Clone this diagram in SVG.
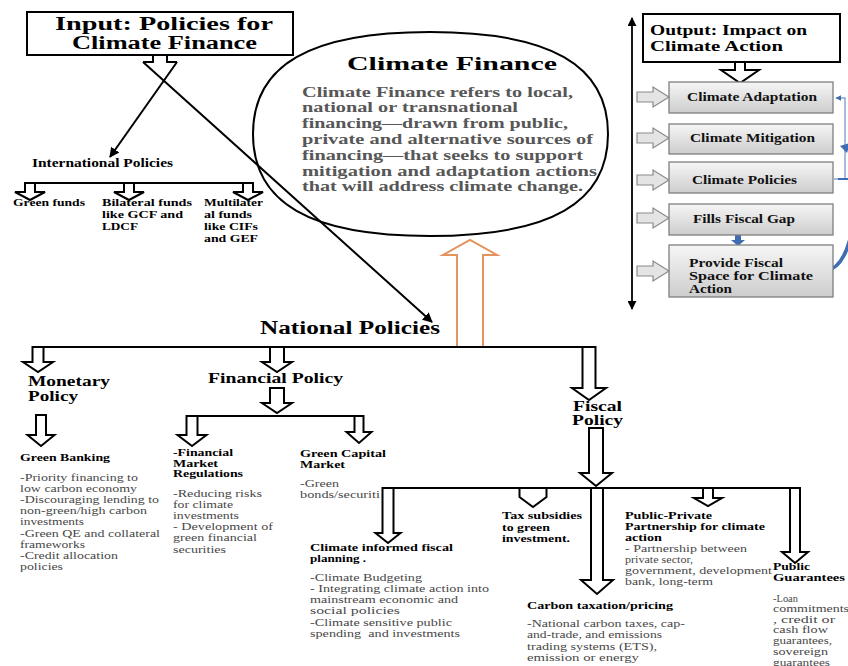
<svg xmlns="http://www.w3.org/2000/svg" width="848" height="666" viewBox="0 0 848 666">
<style>
text{font-family:"Liberation Serif","Times New Roman",serif}
.lb{font-weight:bold;font-size:10.5px;fill:#000}
.bd{font-size:10.5px;fill:#474747}
.h14{font-weight:bold;font-size:14px;fill:#000}
.rb{font-weight:bold;font-size:11.5px;fill:#111}
.cb{font-weight:bold;font-size:14px;fill:#575757}
.ha{fill:#fff;stroke:#000;stroke-width:2;stroke-linejoin:miter}
.ln{fill:none;stroke:#000;stroke-width:2}
.gb{fill:url(#gg);stroke:#7f7f7f;stroke-width:1.3}
.sa{fill:#e4e4e4;stroke:#8a8a8a;stroke-width:1.2}
</style>
<defs>
<linearGradient id="gg" x1="0" y1="0" x2="0" y2="1">
<stop offset="0" stop-color="#f6f6f6"/>
<stop offset="1" stop-color="#cdcdcd"/>
</linearGradient>
<marker id="ah" viewBox="0 0 10 10" refX="9" refY="5" markerWidth="5" markerHeight="5" orient="auto-start-reverse">
<path d="M0,0 L10,5 L0,10 z" fill="#000"/>
</marker>
<marker id="bh" viewBox="0 0 10 10" refX="9" refY="5" markerWidth="4" markerHeight="4" orient="auto-start-reverse">
<path d="M0,0 L10,5 L0,10 z" fill="#3f6db3"/>
</marker>
</defs>
<rect width="848" height="666" fill="#fff"/>

<g id="connectors">
<polyline class="ln" points="153,55 153,62 143,62"/>
<polyline class="ln" points="167,55 167,62 177,62"/>
<line class="ln" x1="143" y1="62" x2="432" y2="322" marker-end="url(#ah)"/>
<line class="ln" x1="177" y1="62" x2="110" y2="157" marker-end="url(#ah)"/>
<line class="ln" x1="25" y1="183" x2="253" y2="183"/>
<polygon class="ha" points="25,183 25,192 15,192 30,200 45,192 35,192 35,183"/>
<polygon class="ha" points="124,183 124,192 114,192 129,200 144,192 134,192 134,183"/>
<polygon class="ha" points="243,183 243,192 233,192 248,200 263,192 253,192 253,183"/>
<polygon points="457,347 457,255 443,255 470,240 497,255 483,255 483,347" fill="#fff" stroke="#e3935b" stroke-width="2"/>
<line class="ln" x1="32" y1="347" x2="596" y2="347"/>
<polygon class="ha" points="32.5,347 32.5,362 23,362 38,372 53,362 43.5,362 43.5,347"/>
<polygon class="ha" points="270,347 270,362 262,362 277,372 292,362 284,362 284,347"/>
<polygon class="ha" points="582.5,347 582.5,388 572,388 589,400 606,388 595.5,388 595.5,347"/>
<polygon class="ha" points="270,388 270,403 262,403 277,413 292,403 284,403 284,388"/>
<line class="ln" x1="186.5" y1="416" x2="363.5" y2="416"/>
<polygon class="ha" points="186.5,416 186.5,435 177.5,435 192,446 206.5,435 197.5,435 197.5,416"/>
<polygon class="ha" points="354.5,416 354.5,432 346.5,432 359,443 371.5,432 363.5,432 363.5,416"/>
<polygon class="ha" points="36,415 36,435 27.5,435 41,446 54.5,435 46,435 46,415"/>
<polygon class="ha" points="589,428 589,473 580,473 596,486 612,473 603,473 603,428"/>
<line class="ln" x1="382" y1="488" x2="800" y2="488"/>
<polygon class="ha" points="382.5,488 382.5,533 375.5,533 388,543 400.5,533 393.5,533 393.5,488"/>
<polygon class="ha" points="519.5,488 519.5,497 533,507 546.5,497 546.5,488"/>
<polygon class="ha" points="591,488 591,580 581,580 597,594 613,580 603,580 603,488"/>
<polygon class="ha" points="703,488 703,498 694,498 708,506 722,498 713,498 713,488"/>
<polygon class="ha" points="790,488 790,552 782,552 795,563 808,552 800,552 800,488"/>
<line x1="632" y1="18" x2="632" y2="309" stroke="#000" stroke-width="1.8" marker-start="url(#ah)" marker-end="url(#ah)"/>
<polygon class="ha" points="735,62 735,70 721,70 740,83 759,70 745,70 745,62"/>
<polygon class="sa" points="637,92 653,92 653,87 669,97 653,107 653,102 637,102"/>
<polygon class="sa" points="637,133 653,133 653,128 669,138 653,148 653,143 637,143"/>
<polygon class="sa" points="637,175 653,175 653,170 669,180 653,190 653,185 637,185"/>
<polygon class="sa" points="637,213 653,213 653,208 669,218 653,228 653,223 637,223"/>
<polygon class="sa" points="637,266 653,266 653,261 669,271 653,281 653,276 637,276"/>
<polygon points="735,235 741,235 741,240 745,240 738,246 731,240 735,240" fill="#3f6db3"/>
<polyline points="834,179 845,179 845,98 836,98" fill="none" stroke="#8aa6d2" stroke-width="1.5" marker-end="url(#bh)"/>
<line x1="838" y1="179" x2="848" y2="179" stroke="#3f6db3" stroke-width="2"/>
<path d="M826,271 C842,268 849,248 853,225" fill="none" stroke="#3f6db3" stroke-width="3.5"/>
<polygon points="840,146 850,143 847,153" fill="#3f6db3"/>
</g>

<g id="input-box">
<rect x="27" y="12" width="266" height="43" fill="#fff" stroke="#000" stroke-width="2"/>
<text x="55" y="30" font-size="18" font-weight="bold" textLength="218" lengthAdjust="spacingAndGlyphs">Input: Policies for</text>
<text x="72" y="49" font-size="18" font-weight="bold" textLength="185" lengthAdjust="spacingAndGlyphs">Climate Finance</text>
</g>

<g id="climate-finance">
<path d="M253,134 C253,65 310,32 430,32 C550,32 608,65 608,134 C608,203 550,236 430,236 C310,236 253,203 253,134 Z" fill="none" stroke="#000" stroke-width="2"/>
<text x="347" y="70" font-size="19" font-weight="bold" textLength="210" lengthAdjust="spacingAndGlyphs">Climate Finance</text>
<text class="cb" x="302" y="96.5" textLength="271" lengthAdjust="spacingAndGlyphs">Climate Finance refers to local,</text>
<text class="cb" x="302" y="112" textLength="216" lengthAdjust="spacingAndGlyphs">national or transnational</text>
<text class="cb" x="302" y="128" textLength="266" lengthAdjust="spacingAndGlyphs">financing—drawn from public,</text>
<text class="cb" x="302" y="144" textLength="291" lengthAdjust="spacingAndGlyphs">private and alternative sources of</text>
<text class="cb" x="302" y="160" textLength="281" lengthAdjust="spacingAndGlyphs">financing—that seeks to support</text>
<text class="cb" x="302" y="176" textLength="295" lengthAdjust="spacingAndGlyphs">mitigation and adaptation actions</text>
<text class="cb" x="302" y="191" textLength="281" lengthAdjust="spacingAndGlyphs">that will address climate change.</text>
</g>

<g id="international-policies">
<text x="32" y="167" font-size="11.5" font-weight="bold" textLength="141" lengthAdjust="spacingAndGlyphs">International Policies</text>
</g>
<g id="green-funds">
<text class="lb" x="13" y="206" textLength="72" lengthAdjust="spacingAndGlyphs">Green funds</text>
</g>
<g id="bilateral-funds">
<text class="lb" x="102" y="206" textLength="90" lengthAdjust="spacingAndGlyphs">Bilateral funds</text>
<text class="lb" x="102" y="218" textLength="81" lengthAdjust="spacingAndGlyphs">like GCF and</text>
<text class="lb" x="102" y="230" textLength="36" lengthAdjust="spacingAndGlyphs">LDCF</text>
</g>
<g id="multilateral-funds">
<text class="lb" x="204" y="206" textLength="59" lengthAdjust="spacingAndGlyphs">Multilater</text>
<text class="lb" x="204" y="218" textLength="48" lengthAdjust="spacingAndGlyphs">al funds</text>
<text class="lb" x="204" y="230" textLength="54" lengthAdjust="spacingAndGlyphs">like CIFs</text>
<text class="lb" x="204" y="242" textLength="54" lengthAdjust="spacingAndGlyphs">and GEF</text>
</g>

<g id="national-policies">
<text x="260" y="334" font-size="18" font-weight="bold" textLength="180" lengthAdjust="spacingAndGlyphs">National Policies</text>
</g>
<g id="monetary-policy">
<text class="h14" x="28" y="386" textLength="82" lengthAdjust="spacingAndGlyphs">Monetary</text>
<text class="h14" x="28" y="401" textLength="50" lengthAdjust="spacingAndGlyphs">Policy</text>
</g>
<g id="financial-policy">
<text class="h14" x="208" y="383" textLength="135" lengthAdjust="spacingAndGlyphs">Financial Policy</text>
</g>
<g id="fiscal-policy">
<text class="h14" x="573" y="411" textLength="49" lengthAdjust="spacingAndGlyphs">Fiscal</text>
<text class="h14" x="572" y="425" textLength="51" lengthAdjust="spacingAndGlyphs">Policy</text>
</g>

<g id="green-banking">
<text class="lb" x="20" y="461" textLength="90" lengthAdjust="spacingAndGlyphs">Green Banking</text>
<text class="bd" x="20" y="480.5" textLength="118" lengthAdjust="spacingAndGlyphs">-Priority financing to</text>
<text class="bd" x="20" y="491.7" textLength="117" lengthAdjust="spacingAndGlyphs">low carbon economy</text>
<text class="bd" x="20" y="502.9" textLength="139" lengthAdjust="spacingAndGlyphs">-Discouraging lending to</text>
<text class="bd" x="20" y="514.1" textLength="127" lengthAdjust="spacingAndGlyphs">non-green/high carbon</text>
<text class="bd" x="20" y="525.3" textLength="64" lengthAdjust="spacingAndGlyphs">investments</text>
<text class="bd" x="20" y="536.5" textLength="140" lengthAdjust="spacingAndGlyphs">-Green QE and collateral</text>
<text class="bd" x="20" y="547.7" textLength="65" lengthAdjust="spacingAndGlyphs">frameworks</text>
<text class="bd" x="20" y="558.9" textLength="98" lengthAdjust="spacingAndGlyphs">-Credit allocation</text>
<text class="bd" x="20" y="570.1" textLength="43" lengthAdjust="spacingAndGlyphs">policies</text>
</g>

<g id="financial-market-regulations">
<text class="lb" x="173" y="455.5" textLength="60" lengthAdjust="spacingAndGlyphs">-Financial</text>
<text class="lb" x="173" y="466.5" textLength="45" lengthAdjust="spacingAndGlyphs">Market</text>
<text class="lb" x="173" y="477" textLength="70" lengthAdjust="spacingAndGlyphs">Regulations</text>
<text class="bd" x="173" y="496.5" textLength="89" lengthAdjust="spacingAndGlyphs">-Reducing risks</text>
<text class="bd" x="173" y="507.5" textLength="60" lengthAdjust="spacingAndGlyphs">for climate</text>
<text class="bd" x="173" y="519" textLength="66" lengthAdjust="spacingAndGlyphs">investments</text>
<text class="bd" x="173" y="530" textLength="100" lengthAdjust="spacingAndGlyphs">- Development of</text>
<text class="bd" x="173" y="541" textLength="84" lengthAdjust="spacingAndGlyphs">green financial</text>
<text class="bd" x="173" y="552.5" textLength="53" lengthAdjust="spacingAndGlyphs">securities</text>
</g>

<g id="green-capital-market">
<text class="lb" x="300" y="456.5" textLength="86" lengthAdjust="spacingAndGlyphs">Green Capital</text>
<text class="lb" x="300" y="467.5" textLength="45" lengthAdjust="spacingAndGlyphs">Market</text>
<text class="bd" x="300" y="486.5" textLength="39" lengthAdjust="spacingAndGlyphs">-Green</text>
<text class="bd" x="300" y="497.5" textLength="80" lengthAdjust="spacingAndGlyphs">bonds/securiti</text>
</g>

<g id="climate-informed-fiscal-planning">
<text class="lb" x="310" y="550.5" textLength="143" lengthAdjust="spacingAndGlyphs">Climate informed fiscal</text>
<text class="lb" x="310" y="561.5" textLength="56" lengthAdjust="spacingAndGlyphs">planning .</text>
<text class="bd" x="310" y="580.5" textLength="112" lengthAdjust="spacingAndGlyphs">-Climate Budgeting</text>
<text class="bd" x="310" y="591.5" textLength="179" lengthAdjust="spacingAndGlyphs">- Integrating climate action into</text>
<text class="bd" x="310" y="602.5" textLength="148" lengthAdjust="spacingAndGlyphs">mainstream economic and</text>
<text class="bd" x="310" y="614" textLength="90" lengthAdjust="spacingAndGlyphs">social policies</text>
<text class="bd" x="310" y="625.5" textLength="142" lengthAdjust="spacingAndGlyphs">-Climate sensitive public</text>
<text class="bd" x="310" y="636.5" textLength="150" lengthAdjust="spacingAndGlyphs" xml:space="preserve">spending  and investments</text>
</g>

<g id="tax-subsidies">
<text class="lb" x="502" y="518.5" textLength="80" lengthAdjust="spacingAndGlyphs">Tax subsidies</text>
<text class="lb" x="502" y="530.5" textLength="48" lengthAdjust="spacingAndGlyphs">to green</text>
<text class="lb" x="502" y="541.5" textLength="68" lengthAdjust="spacingAndGlyphs">investment.</text>
</g>

<g id="carbon-taxation">
<text class="lb" x="527" y="608.5" textLength="146" lengthAdjust="spacingAndGlyphs">Carbon taxation/pricing</text>
<text class="bd" x="527" y="626.5" textLength="158" lengthAdjust="spacingAndGlyphs">-National carbon taxes, cap-</text>
<text class="bd" x="527" y="638" textLength="135" lengthAdjust="spacingAndGlyphs">and-trade, and emissions</text>
<text class="bd" x="527" y="649.5" textLength="130" lengthAdjust="spacingAndGlyphs">trading systems (ETS),</text>
<text class="bd" x="527" y="661" textLength="112" lengthAdjust="spacingAndGlyphs">emission or energy</text>
</g>

<g id="public-private-partnership">
<text class="lb" x="625" y="518.5" textLength="87" lengthAdjust="spacingAndGlyphs">Public-Private</text>
<text class="lb" x="625" y="529.5" textLength="140" lengthAdjust="spacingAndGlyphs">Partnership for climate</text>
<text class="lb" x="625" y="540.5" textLength="37" lengthAdjust="spacingAndGlyphs">action</text>
<text class="bd" x="625" y="551.5" textLength="122" lengthAdjust="spacingAndGlyphs">- Partnership between</text>
<text class="bd" x="625" y="562.5" textLength="68" lengthAdjust="spacingAndGlyphs">private sector,</text>
<text class="bd" x="625" y="573.5" textLength="147" lengthAdjust="spacingAndGlyphs">government, development</text>
<text class="bd" x="625" y="584.5" textLength="88" lengthAdjust="spacingAndGlyphs">bank, long-term</text>
</g>

<g id="public-guarantees">
<text class="lb" x="773" y="569.5" textLength="37" lengthAdjust="spacingAndGlyphs">Public</text>
<text class="lb" x="773" y="581" textLength="72" lengthAdjust="spacingAndGlyphs">Guarantees</text>
<text class="bd" x="773" y="601.5" textLength="25" lengthAdjust="spacingAndGlyphs">-Loan</text>
<text class="bd" x="773" y="611.5" textLength="76" lengthAdjust="spacingAndGlyphs">commitments</text>
<text class="bd" x="773" y="622.5" textLength="62" lengthAdjust="spacingAndGlyphs">, credit or</text>
<text class="bd" x="773" y="632.5" textLength="55" lengthAdjust="spacingAndGlyphs">cash flow</text>
<text class="bd" x="773" y="643.5" textLength="59" lengthAdjust="spacingAndGlyphs">guarantees,</text>
<text class="bd" x="773" y="654.5" textLength="55" lengthAdjust="spacingAndGlyphs">sovereign</text>
<text class="bd" x="773" y="665.5" textLength="57" lengthAdjust="spacingAndGlyphs">guarantees</text>
</g>

<g id="output-box">
<rect x="643" y="14" width="197" height="48" fill="#fff" stroke="#000" stroke-width="2"/>
<text x="650" y="35" font-size="14.5" font-weight="bold" textLength="157" lengthAdjust="spacingAndGlyphs">Output: Impact on</text>
<text x="650" y="51" font-size="14.5" font-weight="bold" textLength="133" lengthAdjust="spacingAndGlyphs">Climate Action</text>
</g>
<g id="climate-adaptation">
<rect class="gb" x="669" y="82" width="164" height="31"/>
<text class="rb" x="687" y="101" textLength="130" lengthAdjust="spacingAndGlyphs">Climate Adaptation</text>
</g>
<g id="climate-mitigation">
<rect class="gb" x="669" y="124" width="164" height="30"/>
<text class="rb" x="690" y="142" textLength="125" lengthAdjust="spacingAndGlyphs">Climate Mitigation</text>
</g>
<g id="climate-policies">
<rect class="gb" x="669" y="162" width="164" height="31"/>
<text class="rb" x="692" y="184" textLength="105" lengthAdjust="spacingAndGlyphs">Climate Policies</text>
</g>
<g id="fills-fiscal-gap">
<rect class="gb" x="669" y="204" width="164" height="31"/>
<text class="rb" x="693" y="223" textLength="102" lengthAdjust="spacingAndGlyphs">Fills Fiscal Gap</text>
</g>
<g id="provide-fiscal-space">
<rect class="gb" x="669" y="245" width="164" height="52"/>
<text class="rb" x="689" y="267" textLength="94" lengthAdjust="spacingAndGlyphs">Provide Fiscal</text>
<text class="rb" x="689" y="280" textLength="124" lengthAdjust="spacingAndGlyphs">Space for Climate</text>
<text class="rb" x="689" y="293" textLength="43" lengthAdjust="spacingAndGlyphs">Action</text>
</g>
</svg>
